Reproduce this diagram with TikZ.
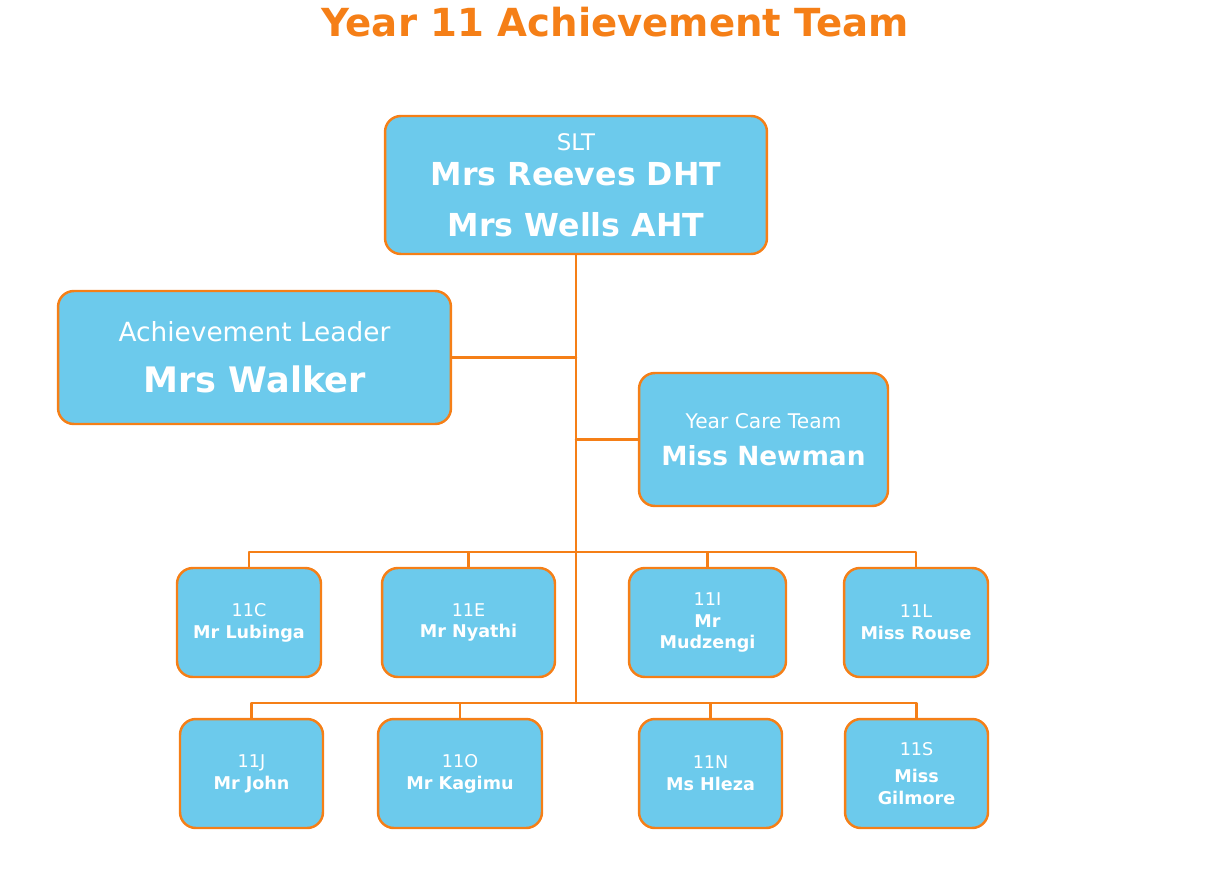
\documentclass[tikz,border=0pt]{standalone}
\usepackage{fontspec}
\setmainfont{DejaVu Sans}
\usepackage{xcolor}
\usetikzlibrary{positioning}
\definecolor{orgline}{HTML}{F57F17}
\definecolor{boxblue}{HTML}{6CCAEC}

\begin{document}
\begin{tikzpicture}[x=0.02cm,y=-0.02cm,line cap=round,line join=round,
    box/.style={draw=orgline,fill=boxblue,line width=1.4pt,rounded corners=9pt,
      text=white,align=center,inner sep=1pt},
    form/.style={box,minimum height=2.18cm,font=\fontsize{10}{12.5}\selectfont},
    link/.style={draw=orgline,line width=1.4pt}]
		\useasboundingbox (0,0) rectangle (1213,879);
		\node[text=orgline,font=\bfseries\fontsize{22}{26}\selectfont] (title) at (615,22) {Year 11 Achievement Team};
		\node[box,minimum width=7.64cm,minimum height=2.76cm,font=\fontsize{18}{29}\selectfont] (slt) at (576,185)
			{{\fontsize{13}{15}\selectfont SLT}\\[-9pt]\textbf{Mrs Reeves DHT}\\\textbf{Mrs Wells AHT}};
		\node[box,minimum width=7.86cm,minimum height=2.66cm,font=\fontsize{20}{29}\selectfont] (walker) at (254.5,357.5)
			{{\fontsize{15}{18}\selectfont Achievement Leader}\\\textbf{Mrs Walker}};
		\node[box,minimum width=4.98cm,minimum height=2.66cm,font=\fontsize{15}{21}\selectfont] (newman) at (763.5,439.5)
			{{\fontsize{11.5}{14}\selectfont Year Care Team}\\\textbf{Miss Newman}};
		% first row of forms
		\node[form,minimum width=2.88cm] (c) at (249,622.5) {11C\\\textbf{Mr Lubinga}};
		\node[form,minimum width=3.46cm] (e) at (468.5,622.5) {11E\\\textbf{Mr Nyathi}};
		\node[form,minimum width=3.14cm] (i) at (707.5,622.5) {11I\\\textbf{Mr}\\\textbf{Mudzengi}};
		\node[form,minimum width=2.88cm] (l) at (916,622.5) {11L\\\textbf{Miss Rouse}};
		% second row of forms
		\node[form,minimum width=2.86cm] (j) at (251.5,773.5) {11J\\\textbf{Mr John}};
		\node[form,minimum width=3.28cm] (o) at (460,773.5) {11O\\\textbf{Mr Kagimu}};
		\node[form,minimum width=2.86cm] (n) at (710.5,773.5) {11N\\\textbf{Ms Hleza}};
		\node[form,minimum width=2.86cm] (s) at (916.5,773.5) {11S\\[3pt]\textbf{Miss}\\\textbf{Gilmore}};
		\coordinate (trunkend) at (576,703);
		\coordinate (busa) at (576,552);
		\draw[link] (slt.south) -- (trunkend);
		\draw[link] (walker.east) -- (walker.east -| slt.south);
		\draw[link] (newman.west) -- (newman.west -| slt.south);
		\foreach \f in {c,e,i,l}
			\draw[link] (\f.north) -- (\f.north |- busa) -- (busa);
		\foreach \f in {j,o,n,s}
			\draw[link] (\f.north) -- (\f.north |- trunkend) -- (trunkend);
	\end{tikzpicture}
\end{document}
